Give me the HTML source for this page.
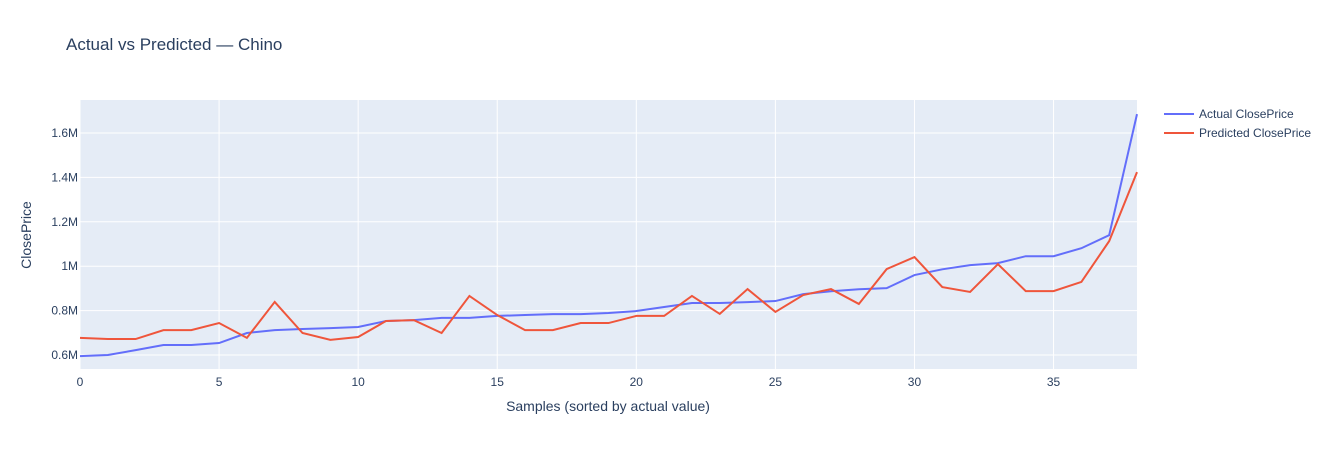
<!DOCTYPE html>
<html><head><meta charset="utf-8"><style>
body{margin:0;background:#fff;font-family:"Liberation Sans",sans-serif;}
svg text{font-family:"Liberation Sans",sans-serif;fill:#2a3f5f;}
</style></head><body>
<svg id="c" width="1338" height="450" xmlns="http://www.w3.org/2000/svg">
<text x="66" y="50" font-size="17">Actual vs Predicted — Chino</text>
<rect x="80" y="100" width="1057" height="269" fill="#e5ecf6"/>
<g id="grid"></g>
<g id="series"></g>
<text x="608" y="411" font-size="14" text-anchor="middle">Samples (sorted by actual value)</text>
<text transform="translate(31,235) rotate(-90)" font-size="14" text-anchor="middle">ClosePrice</text>
<g>
<g><line x1="1164" y1="114" x2="1194" y2="114" stroke="#636efa" stroke-width="2"/><text x="1199" y="118" font-size="12">Actual ClosePrice</text></g>
<g><line x1="1164" y1="133" x2="1194" y2="133" stroke="#ef553b" stroke-width="2"/><text x="1199" y="137" font-size="12">Predicted ClosePrice</text></g>
</g>
</svg>
<script>
const actual=[0.595,0.6,0.622,0.645,0.645,0.654,0.699,0.712,0.717,0.721,0.726,0.753,0.757,0.767,0.767,0.776,0.780,0.784,0.784,0.789,0.798,0.816,0.834,0.834,0.838,0.843,0.874,0.887,0.896,0.901,0.960,0.986,1.005,1.014,1.045,1.045,1.081,1.14,1.685];
const predicted=[0.677,0.672,0.672,0.712,0.712,0.744,0.677,0.839,0.699,0.668,0.681,0.753,0.757,0.699,0.866,0.780,0.712,0.712,0.744,0.744,0.776,0.776,0.866,0.785,0.897,0.794,0.870,0.897,0.830,0.987,1.041,0.906,0.884,1.009,0.888,0.888,0.929,1.113,1.424];
const xTicks=[0,5,10,15,20,25,30,35];
const yTicks=[0.6,0.8,1.0,1.2,1.4,1.6];
const yTickLabels=["0.6M","0.8M","1M","1.2M","1.4M","1.6M"];
const NS="http://www.w3.org/2000/svg";
const X=v=>80+v*(1057/38);
const Y=v=>355-(v-0.6)*222;
const grid=document.getElementById('grid'),ser=document.getElementById('series');
xTicks.forEach(t=>{
 const l=document.createElementNS(NS,'line');
 
 
 l.setAttribute('x1',X(t));l.setAttribute('x2',X(t));l.setAttribute('y1',100);l.setAttribute('y2',369);
 l.setAttribute('stroke','#fff');l.setAttribute('stroke-width',1);grid.appendChild(l);
 const tx=document.createElementNS(NS,'text');
 
 
 tx.setAttribute('x',X(t));tx.setAttribute('y',386);tx.setAttribute('font-size',12);tx.setAttribute('text-anchor','middle');
 tx.textContent=t;grid.appendChild(tx);
});
yTicks.forEach((t,i)=>{
 const l=document.createElementNS(NS,'line');
 
 
 l.setAttribute('x1',80);l.setAttribute('x2',1137);l.setAttribute('y1',Y(t));l.setAttribute('y2',Y(t));
 l.setAttribute('stroke','#fff');l.setAttribute('stroke-width',1);grid.appendChild(l);
 const tx=document.createElementNS(NS,'text');
 
 
 tx.setAttribute('x',78);tx.setAttribute('y',Y(t)+4);tx.setAttribute('font-size',12);tx.setAttribute('text-anchor','end');
 tx.textContent=yTickLabels[i];grid.appendChild(tx);
});
function line(data,color,name){
 const p=document.createElementNS(NS,'polyline');
 
 
 p.setAttribute('points',data.map((v,i)=>X(i)+','+Y(v)).join(' '));
 p.setAttribute('fill','none');p.setAttribute('stroke',color);p.setAttribute('stroke-width',2);
 ser.appendChild(p);
}
line(actual,'#636efa','actual-line');
line(predicted,'#ef553b','predicted-line');
</script>
</body></html>
